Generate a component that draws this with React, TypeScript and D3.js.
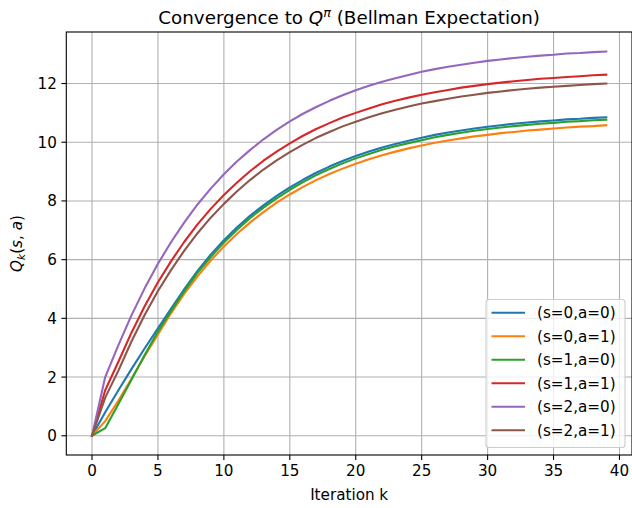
import React from "react";
import * as d3 from "d3";

const iterations: number[] = Array.from({ length: 40 }, (_, i) => i);

const seriesLabels = ["(s=0,a=0)", "(s=0,a=1)", "(s=1,a=0)", "(s=1,a=1)", "(s=2,a=0)", "(s=2,a=1)"];
const seriesColors = ["#1f77b4", "#ff7f0e", "#2ca02c", "#d62728", "#9467bd", "#8c564b"];

const q00 = [0, 0.8, 1.55, 2.28, 2.98, 3.66, 4.33, 5.0, 5.62, 6.17, 6.66, 7.1, 7.5, 7.85, 8.17, 8.46, 8.72, 8.96, 9.17, 9.36, 9.53, 9.68, 9.82, 9.94, 10.05, 10.15, 10.25, 10.33, 10.4, 10.47, 10.53, 10.58, 10.63, 10.67, 10.71, 10.74, 10.78, 10.8, 10.83, 10.85];
const q01 = [0, 0.5, 1.2, 1.95, 2.72, 3.45, 4.18, 4.84, 5.43, 5.97, 6.45, 6.88, 7.27, 7.62, 7.94, 8.22, 8.48, 8.71, 8.92, 9.1, 9.27, 9.42, 9.56, 9.68, 9.79, 9.89, 9.98, 10.06, 10.13, 10.2, 10.25, 10.31, 10.35, 10.4, 10.43, 10.47, 10.5, 10.53, 10.55, 10.58];
const q10 = [0, 0.26, 1.08, 1.92, 2.76, 3.55, 4.25, 4.93, 5.55, 6.09, 6.58, 7.02, 7.42, 7.77, 8.09, 8.38, 8.64, 8.88, 9.09, 9.28, 9.45, 9.6, 9.74, 9.86, 9.97, 10.07, 10.17, 10.25, 10.32, 10.39, 10.45, 10.5, 10.55, 10.59, 10.63, 10.66, 10.7, 10.72, 10.75, 10.77];
const q11 = [0, 1.55, 2.52, 3.52, 4.42, 5.23, 5.95, 6.61, 7.2, 7.73, 8.2, 8.63, 9.02, 9.37, 9.68, 9.96, 10.22, 10.45, 10.65, 10.84, 11.0, 11.15, 11.29, 11.41, 11.52, 11.62, 11.7, 11.78, 11.86, 11.92, 11.98, 12.03, 12.08, 12.12, 12.16, 12.19, 12.22, 12.25, 12.28, 12.3];
const q20 = [0, 2.0, 3.09, 4.11, 5.03, 5.86, 6.6, 7.27, 7.88, 8.42, 8.91, 9.35, 9.74, 10.1, 10.42, 10.71, 10.97, 11.2, 11.41, 11.6, 11.77, 11.92, 12.06, 12.18, 12.29, 12.4, 12.49, 12.57, 12.64, 12.71, 12.77, 12.82, 12.87, 12.91, 12.95, 12.98, 13.02, 13.04, 13.07, 13.09];
const q21 = [0, 1.3, 2.22, 3.22, 4.12, 4.93, 5.65, 6.31, 6.9, 7.43, 7.9, 8.33, 8.72, 9.07, 9.38, 9.66, 9.92, 10.15, 10.35, 10.54, 10.7, 10.85, 10.99, 11.11, 11.22, 11.32, 11.4, 11.48, 11.56, 11.62, 11.68, 11.73, 11.78, 11.82, 11.86, 11.89, 11.92, 11.95, 11.98, 12.0];

const seriesValues = [q00, q01, q10, q11, q20, q21];

const xTicks = [0, 5, 10, 15, 20, 25, 30, 35, 40];
const yTicks = [0, 2, 4, 6, 8, 10, 12];

const FONT = "DejaVu Sans, sans-serif";

export default function App() {
  const left = 66.3, right = 632, top = 32, bottom = 455;
  const x = d3.scaleLinear().domain([-1.95, 40.95]).range([left, right]);
  const y = d3.scaleLinear().domain([-0.655, 13.755]).range([bottom, top]);
  const line = d3
    .line<[number, number]>()
    .x((d) => x(d[0]))
    .y((d) => y(d[1]));

  const tickFs = 15.2;
  const titleFs = 18.3;
  const legX = 486, legY = 299.5, legW = 139, legH = 148;
  const rowH = 23.5;

  return (
    <svg
      width={632}
      height={508}
      style={{ position: "absolute", left: 0, top: 0, background: "#fff" }}
      fontFamily={FONT}
    >
      <rect x={0} y={0} width={632} height={508} fill="#fff" />
      {/* grid */}
      {xTicks.map((t) => (
        <line key={"gx" + t} x1={x(t)} x2={x(t)} y1={top} y2={bottom} stroke="#b0b0b0" strokeWidth={1.1} />
      ))}
      {yTicks.map((t) => (
        <line key={"gy" + t} x1={left} x2={right} y1={y(t)} y2={y(t)} stroke="#b0b0b0" strokeWidth={1.1} />
      ))}
      {/* lines */}
      {seriesValues.map((vals, i) => (
        <path
          key={"s" + i}
          d={line(iterations.map((k, j) => [k, vals[j]]) as [number, number][]) || ""}
          fill="none"
          stroke={seriesColors[i]}
          strokeWidth={2.1}
          strokeLinejoin="round"
          strokeLinecap="square"
        />
      ))}
      {/* spines */}
      <rect x={left} y={top} width={right - left} height={bottom - top} fill="none" stroke="#000" strokeWidth={1.1} />
      {/* ticks */}
      {xTicks.map((t) => (
        <g key={"tx" + t}>
          <line x1={x(t)} x2={x(t)} y1={bottom} y2={bottom + 4.9} stroke="#000" strokeWidth={1.1} />
          <text x={x(t)} y={bottom + 21} fontSize={tickFs} textAnchor="middle" fill="#000">
            {t}
          </text>
        </g>
      ))}
      {yTicks.map((t) => (
        <g key={"ty" + t}>
          <line x1={left - 4.9} x2={left} y1={y(t)} y2={y(t)} stroke="#000" strokeWidth={1.1} />
          <text x={left - 9.5} y={y(t) + 5.5} fontSize={tickFs} textAnchor="end" fill="#000">
            {t}
          </text>
        </g>
      ))}
      {/* x label */}
      <text x={(left + right) / 2} y={500} fontSize={tickFs} textAnchor="middle" fill="#000">
        Iteration k
      </text>
      {/* y label */}
      <text
        transform={`translate(22, ${(top + bottom) / 2}) rotate(-90)`}
        fontSize={tickFs}
        textAnchor="middle"
        fill="#000"
      >
        <tspan fontStyle="italic">Q</tspan>
        <tspan fontStyle="italic" fontSize={tickFs * 0.7} dy={3}>k</tspan>
        <tspan dy={-3}>(</tspan>
        <tspan fontStyle="italic">s</tspan>
        <tspan>, </tspan>
        <tspan fontStyle="italic">a</tspan>
        <tspan>)</tspan>
      </text>
      {/* title */}
      <text x={(left + right) / 2} y={24} fontSize={titleFs} textAnchor="middle" fill="#000">
        <tspan>Convergence to </tspan>
        <tspan fontStyle="italic">Q</tspan>
        <tspan fontStyle="italic" fontSize={titleFs * 0.7} dy={-7.5}>π</tspan>
        <tspan dy={7.5}> (Bellman Expectation)</tspan>
      </text>
      {/* legend */}
      <rect
        x={legX}
        y={legY}
        width={legW}
        height={legH}
        rx={3}
        ry={3}
        fill="#fff"
        fillOpacity={0.8}
        stroke="#cccccc"
        strokeWidth={1.1}
      />
      {seriesLabels.map((lab, i) => {
        const cy = legY + 13.2 + i * rowH;
        return (
          <g key={"lg" + i}>
            <line x1={legX + 5.5} x2={legX + 39} y1={cy} y2={cy} stroke={seriesColors[i]} strokeWidth={2.1} />
            <text x={legX + 51} y={cy + 5.5} fontSize={tickFs} fill="#000">
              {lab}
            </text>
          </g>
        );
      })}
    </svg>
  );
}
